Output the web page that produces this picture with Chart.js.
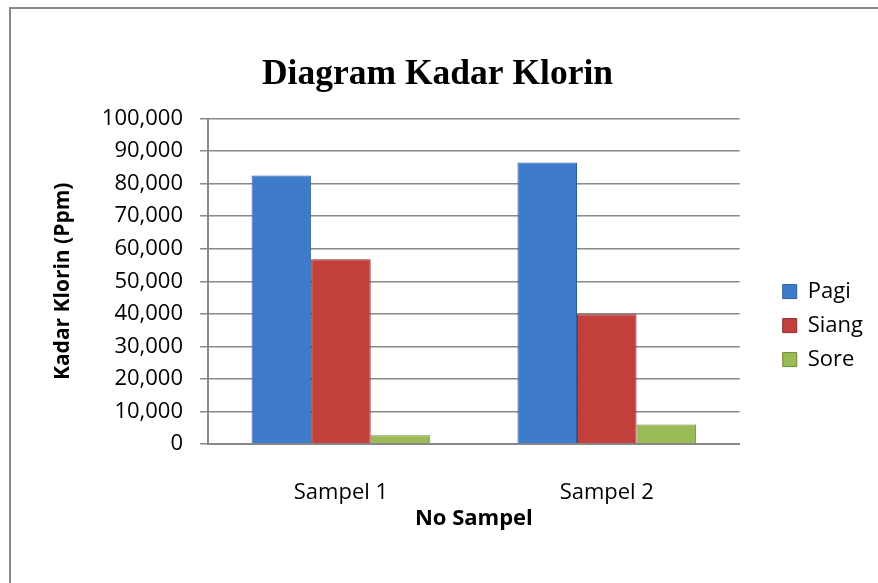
<!DOCTYPE html>
<html>
<head>
<meta charset="utf-8">
<script src="https://cdn.jsdelivr.net/npm/chart.js@4.4.1/dist/chart.umd.min.js"></script>
<style>
  html, body { margin: 0; padding: 0; background: #fff; overflow: hidden; }
  #wrap { position: relative; width: 878px; height: 583px; overflow: hidden; }
  #frame { position: absolute; left: 9px; top: 7px; width: 900px; height: 600px;
           border-left: 2px solid #888; border-top: 2px solid #888; pointer-events: none; }
</style>
</head>
<body>
<div id="wrap">
  <canvas id="myChart" width="878" height="583"></canvas>
  <div id="frame"></div>
</div>
<script>
const categories = ['Sampel 1', 'Sampel 2'];
const pagi = [82500, 86500];
const siang = [56800, 39900];
const sore = [2700, 6000];
const yTicks = [0, 10000, 20000, 30000, 40000, 50000, 60000, 70000, 80000, 90000, 100000];

const bodyFont = 'Open Sans';

// nudge the legend to the right, like the original
const legendShift = {
    id: 'legendShift',
    afterLayout(chart) {
        chart.legend.left += 31;
        chart.legend.right += 31;
    }
};

const ctx = document.getElementById('myChart');
const myChart = new Chart(ctx, {
    type: 'bar',
    data: {
        labels: categories,
        datasets: [{
            label: 'Pagi',
            data: pagi,
            backgroundColor: '#3E7CCB',
            borderColor: '#2F5E9E',
            borderWidth: 1},{
            label: 'Siang',
            data: siang,
            backgroundColor: '#C2403C',
            borderColor: '#8E2B29',
            borderWidth: 1},{
            label: 'Sore',
            data: sore,
            backgroundColor: '#9ABB55',
            borderColor: '#6E8A36',
            borderWidth: 1
          }]
        },
    plugins: [legendShift],
    options: {
        responsive: false,
        animation: false,
        layout: { padding: { left: 33, right: 36, top: 0, bottom: 51 } },
        datasets: { bar: { barPercentage: 1, categoryPercentage: 0.672 } },
        plugins: {
            title: {
                display: true,
                text: 'Diagram Kadar Klorin',
                color: '#000',
                font: { family: 'Liberation Serif', size: 35.5, weight: 'bold' },
                padding: { top: 54, bottom: 22 }
            },
            legend: {
                position: 'right',
                title: { display: true, text: ' ', font: { size: 1 }, padding: { top: 118, bottom: 0 } },
                labels: {
                    color: '#000',
                    boxWidth: 14,
                    boxHeight: 14,
                    padding: 12,
                    font: { family: bodyFont, size: 22 }
                }
            },
            tooltip: { enabled: false }
        },
        scales: {
            x: {
                afterFit: (scale) => { scale.height = 88; },
                grid: { display: false },
                border: { display: true, color: '#888', width: 2 },
                ticks: { color: '#000', padding: 28, font: { family: bodyFont, size: 22 } },
                title: {
                    display: true,
                    text: 'No Sampel',
                    color: '#000',
                    font: { family: bodyFont, size: 22, weight: 'bold' },
                    padding: 0
                }
            },
            y: {
                min: 0,
                max: 100000,
                afterBuildTicks: (scale) => { scale.ticks = yTicks.map(v => ({ value: v })); },
                afterFit: (scale) => { scale.width = 175; },
                grid: { color: '#888', lineWidth: 1.5, tickLength: 8 },
                border: { display: true, color: '#888', width: 2 },
                ticks: {
                    color: '#000',
                    padding: 17,
                    font: { family: bodyFont, size: 22 },
                    callback: (v) => v.toLocaleString('en-US')
                },
                title: {
                    display: true,
                    text: 'Kadar Klorin (Ppm)',
                    color: '#000',
                    font: { family: bodyFont, size: 21, weight: 'bold' },
                    padding: { top: 17, bottom: 0 }
                }
            }
        }
    }
});
</script>
</body>
</html>
